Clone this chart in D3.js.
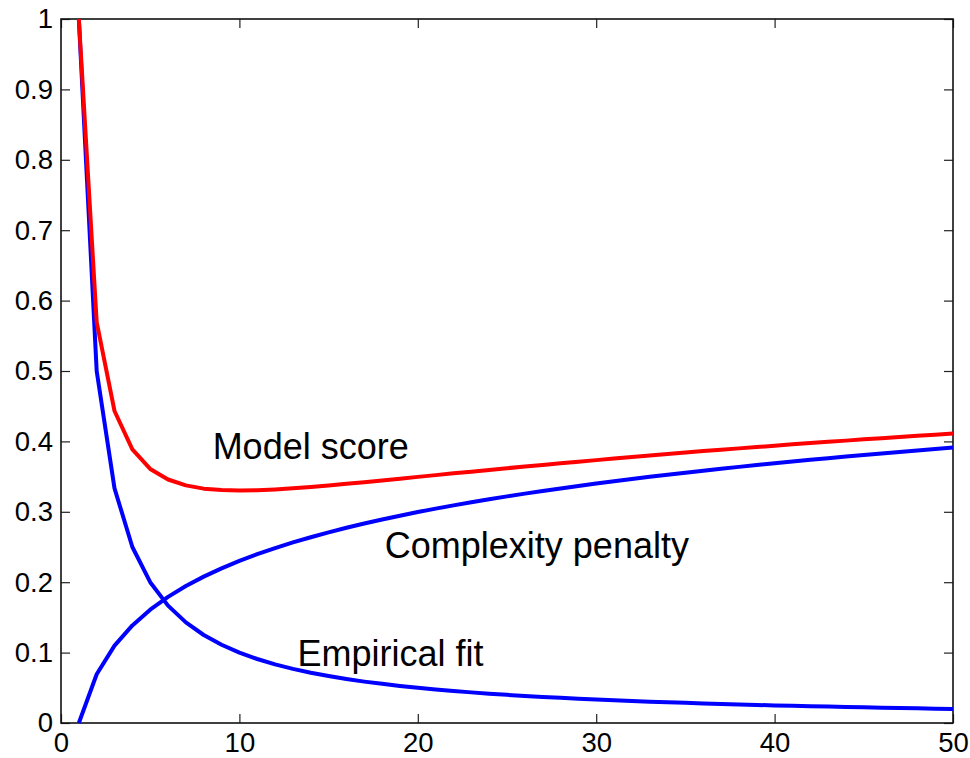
<!DOCTYPE html>
<html lang="en">
<head>
    <meta charset="UTF-8">
    <title>Model score vs complexity</title>
    <script src="https://d3js.org/d3.v7.min.js"></script>
    <style>
        body { margin: 0; background: white; }
        text { font-family: "Liberation Sans", Arial, sans-serif; fill: black; }
        .tick-label { font-size: 27.5px; }
        .curve-label { font-size: 36px; }
        .frame { fill: none; stroke: #111; stroke-width: 1.6; }
    </style>
</head>
<body>
    <svg id="chart" width="970" height="758"></svg>
    <script>
        // Values, one per integer x
        const xs = d3.range(1, 51);
        const empiricalFit = [1, .5, .3333, .25, .2, .1667, .1429, .125, .1111, .1,
            .0909, .0833, .0769, .0714, .0667, .0625, .0588, .0556, .0526, .05,
            .0476, .0455, .0435, .0417, .04, .0385, .037, .0357, .0345, .0333,
            .0323, .0313, .0303, .0294, .0286, .0278, .027, .0263, .0256, .025,
            .0244, .0238, .0233, .0227, .0222, .0217, .0213, .0208, .0204, .02];
        const complexityPenalty = [0, .0693, .1099, .1386, .1609, .1792, .1946, .2079, .2197, .2303,
            .2398, .2485, .2565, .2639, .2708, .2773, .2833, .289, .2944, .2996,
            .3045, .3091, .3135, .3178, .3219, .3258, .3296, .3332, .3367, .3401,
            .3434, .3466, .3497, .3526, .3555, .3584, .3611, .3638, .3664, .3689,
            .3714, .3738, .3761, .3784, .3807, .3829, .385, .3871, .3892, .3912];
        const modelScore = [1, .5693, .4432, .3886, .3609, .3459, .3375, .3329, .3308, .3303,
            .3307, .3318, .3334, .3353, .3375, .3398, .3421, .3446, .347, .3496,
            .3521, .3546, .357, .3595, .3619, .3643, .3666, .3689, .3712, .3734,
            .3756, .3779, .38, .382, .3841, .3862, .3881, .3901, .392, .3939,
            .3958, .3976, .3994, .4011, .4029, .4046, .4063, .4079, .4096, .4112];
        const xTicks = [0, 10, 20, 30, 40, 50];
        const yTicks = [0, 0.1, 0.2, 0.3, 0.4, 0.5, 0.6, 0.7, 0.8, 0.9, 1];
        const labels = [
            { text: "Model score", x: 8.5, y: 0.375 },
            { text: "Complexity penalty", x: 18.15, y: 0.235 },
            { text: "Empirical fit", x: 13.25, y: 0.081 }
        ];

        const svg = d3.select("#chart");
        const plotL = 61, plotR = 953, plotT = 19, plotB = 723;

        const x = d3.scaleLinear().domain([0, 50]).range([plotL, plotR]);
        const y = d3.scaleLinear().domain([0, 1]).range([plotB, plotT]);

        // Axes with ticks pointing inward, on all four sides
        const tickLen = 9;
        const gx = svg.append("g").attr("transform", `translate(0,${plotB})`)
            .call(d3.axisBottom(x).tickValues(xTicks).tickSize(-tickLen).tickPadding(9).tickFormat(d3.format("d")));
        const gy = svg.append("g").attr("transform", `translate(${plotL},0)`)
            .call(d3.axisLeft(y).tickValues(yTicks).tickSize(-tickLen).tickPadding(8).tickFormat(d => d === 0 || d === 1 ? d : d3.format(".1f")(d)));
        svg.append("g").attr("transform", `translate(0,${plotT})`)
            .call(d3.axisTop(x).tickValues(xTicks).tickSize(-tickLen).tickFormat(""));
        svg.append("g").attr("transform", `translate(${plotR},0)`)
            .call(d3.axisRight(y).tickValues(yTicks).tickSize(-tickLen).tickFormat(""));

        svg.selectAll(".domain").remove();
        svg.selectAll(".tick line").attr("stroke", "#222").attr("stroke-width", 1.2);
        svg.selectAll(".tick text").attr("class", "tick-label");
        gx.selectAll("text").attr("dy", "0.71em");

        svg.append("rect").attr("class", "frame")
            .attr("x", plotL).attr("y", plotT)
            .attr("width", plotR - plotL).attr("height", plotB - plotT);

        const line = d3.line().x((d, i) => x(xs[i])).y(d => y(d));

        const series = [
            { values: empiricalFit, color: "#0000ff" },
            { values: complexityPenalty, color: "#0000ff" },
            { values: modelScore, color: "#ff0000" }
        ];
        svg.selectAll(".curve").data(series).enter()
            .append("path")
            .attr("class", "curve")
            .attr("d", d => line(d.values))
            .attr("fill", "none")
            .attr("stroke", d => d.color)
            .attr("stroke-width", 4)
            .attr("stroke-linejoin", "round");

        svg.selectAll(".curve-label").data(labels).enter()
            .append("text")
            .attr("class", "curve-label")
            .attr("x", d => x(d.x))
            .attr("y", d => y(d.y))
            .text(d => d.text);
    </script>
</body>
</html>
